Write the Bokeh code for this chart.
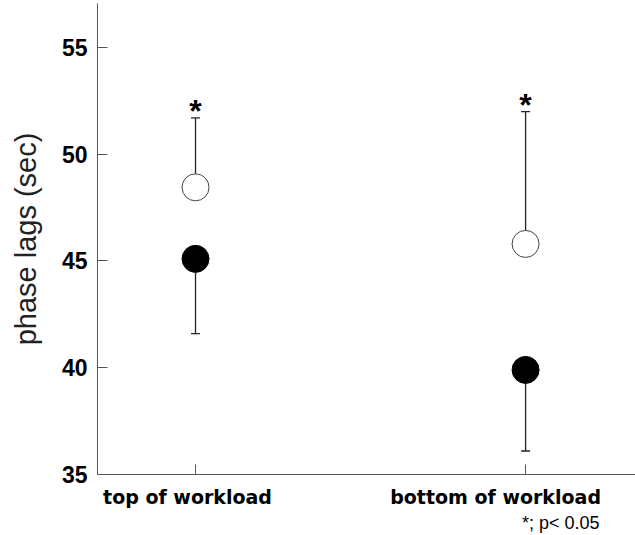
from bokeh.plotting import figure
from bokeh.models import (FixedTicker, Range1d, Title, ColumnDataSource,
                          LinearAxis, CustomJSTickFormatter)
from bokeh.core.properties import value
from bokeh.embed import file_html
from bokeh.resources import INLINE

# Phase lags (sec) at two points of the workload cycle
categories = ["top of workload", "bottom of workload"]
cat_pos = [1, 2]

open_mean = [48.45, 45.8]    # open circles, SD drawn upward
open_upper = [51.7, 52.0]
filled_mean = [45.1, 39.9]   # filled circles, SD drawn downward
filled_lower = [41.6, 36.1]

y_ticks = [35, 40, 45, 50, 55]
significance = ["*", "*"]
footnote = "*; p< 0.05"

W, H = 635, 535
LEFT, BOTTOM, TOP = 97, 61, 3
x_lo, x_hi = 0.703, 2.333

p = figure(width=W, height=H, output_backend="svg", toolbar_location=None,
           x_range=Range1d(x_lo, x_hi), y_range=Range1d(35, 57.06),
           min_border_left=LEFT, min_border_right=0, min_border_top=TOP,
           min_border_bottom=BOTTOM)
p.outline_line_color = None
p.xgrid.visible = False
p.ygrid.visible = False
p.background_fill_color = "white"
p.border_fill_color = "white"

# y axis
ya = p.yaxis[0]
ya.ticker = FixedTicker(ticks=y_ticks)
ya.axis_line_color = "#555555"
ya.major_tick_line_color = "#555555"
ya.major_tick_in = 10
ya.major_tick_out = 0
ya.minor_tick_line_color = None
ya.major_label_standoff = 10
ya.major_label_text_font = "Liberation Sans"
ya.major_label_text_font_style = "bold"
ya.major_label_text_font_size = "23px"
ya.major_label_text_color = "black"
ya.axis_label = "phase lags (sec)"
ya.axis_label_text_font = "Liberation Sans"
ya.axis_label_text_font_style = "normal"
ya.axis_label_text_font_size = "29px"
ya.axis_label_text_color = "#222222"
ya.axis_label_standoff = 17

# x axis line with one inward tick per category
xa = p.xaxis[0]
xa.ticker = FixedTicker(ticks=cat_pos)
xa.formatter = CustomJSTickFormatter(code="return ''")
xa.axis_line_color = "#555555"
xa.major_tick_line_color = "#555555"
xa.major_tick_in = 10
xa.major_tick_out = 0
xa.minor_tick_line_color = None
xa.major_label_standoff = 0

# category names, set slightly left of their ticks
px_per_unit = (W - LEFT) / (x_hi - x_lo)
label_shift_px = [-8, -30]
label_pos = [c + s / px_per_unit for c, s in zip(cat_pos, label_shift_px)]
names = LinearAxis(ticker=FixedTicker(ticks=label_pos),
                   major_label_overrides={pos: n for pos, n in zip(label_pos, categories)},
                   axis_line_color=None, major_tick_line_color=None,
                   minor_tick_line_color=None, major_label_standoff=5,
                   major_label_text_font="DejaVu Sans",
                   major_label_text_font_style="bold",
                   major_label_text_font_size="19px",
                   major_label_text_color="black")
p.add_layout(names, "below")

# significance note under the right-hand category
p.add_layout(Title(text=footnote, align="right", offset=36,
                   text_font="Liberation Sans", text_font_style="normal",
                   text_font_size="18px", text_color="black",
                   standoff=0), "below")

src = ColumnDataSource(dict(x=cat_pos, om=open_mean, ou=open_upper,
                            fm=filled_mean, fl=filled_lower, star=significance))

# error bars (one-sided)
p.segment(x0="x", y0="om", x1="x", y1="ou", source=src, line_color="#222222", line_width=1.3)
p.segment(x0="x", y0="fm", x1="x", y1="fl", source=src, line_color="#222222", line_width=1.3)
p.scatter(x="x", y="ou", source=src, marker="dash", size=9, line_color="#222222", line_width=1.3)
p.scatter(x="x", y="fl", source=src, marker="dash", size=9, line_color="#222222", line_width=1.3)

# means
p.scatter(x="x", y="om", source=src, marker="circle", size=27,
          fill_color="white", line_color="#444444", line_width=1)
p.scatter(x="x", y="fm", source=src, marker="circle", size=27,
          fill_color="black", line_color="black", line_width=1)

# significance marks
p.text(x="x", y="ou", text="star", source=src, text_align="center",
       text_baseline="alphabetic", y_offset=-7,
       text_font=value("Liberation Sans"), text_font_style="bold",
       text_font_size="32px", text_color="black")

open("out.html", "w").write(file_html(p, INLINE))
